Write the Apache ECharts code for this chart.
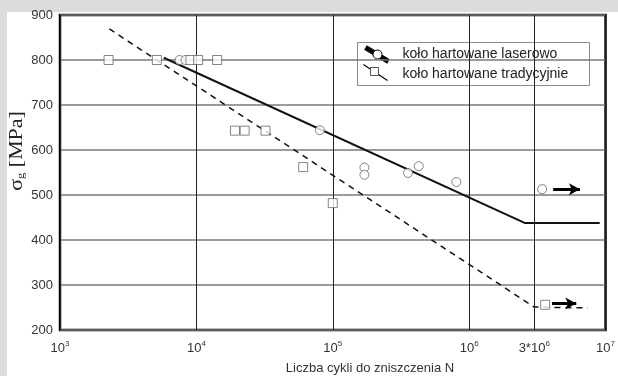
<!DOCTYPE html>
<html><head><meta charset="utf-8">
<script src="https://cdn.jsdelivr.net/npm/echarts@6/dist/echarts.min.js"></script>
<style>html,body{margin:0;padding:0;background:#dcdcdc;}#c{width:618px;height:376px;}</style>
</head><body><div id="c"></div>
<script>
// Data
const xTicks = [1e3, 1e4, 1e5, 1e6, 3e6, 1e7];
const xTickLabels = ['10{s|3}', '10{s|4}', '10{s|5}', '10{s|6}', '3*10{s|6}', '10{s|7}'];
const laserN = [7530, 8320, 80500, 170600, 170600, 356000, 427000, 806000, 3.43e6];
const laserS = [800, 800, 644, 561, 545, 549, 564, 529, 513];
const tradN = [2270, 5130, 9060, 10300, 14200, 19200, 22600, 32100, 60700, 100000, 3.61e6];
const tradS = [800, 800, 800, 800, 800, 643, 643, 643, 562, 482, 256];
const laserLineN = [5770, 2.55e6, 9.06e6];
const laserLineS = [805, 438, 438];
const tradLineN = [2300, 3.0e6, 7.4e6];
const tradLineS = [869, 251, 249];
const laserArrowN = [4.13e6, 6.49e6];
const laserArrowS = [513, 513];
const tradArrowN = [4.05e6, 6.1e6];
const tradArrowS = [259, 259];
const legendNames = ['koło hartowane laserowo', 'koło hartowane tradycyjnie'];

const zip = (a, b) => a.map((v, i) => [v, b[i]]);
const chart = echarts.init(document.getElementById('c'));
const F = 'Liberation Sans, Arial, sans-serif';
chart.setOption({
  backgroundColor: 'transparent',
  animation: false,
  grid: {left: 60, right: 6, top: 15, bottom: 46, show: true, borderColor: '#000', borderWidth: 2.5, backgroundColor: '#fff'},
  xAxis: {
    type: 'log', logBase: 10, min: 1e3, max: 1e7,
    axisLine: {show: false},
    axisTick: {show: false},
    splitLine: {show: true, lineStyle: {color: '#222', width: 1}},
    axisLabel: {
      customValues: xTicks,
      margin: 10,
      formatter: v => { const i = xTicks.findIndex(t => Math.abs(t - v) / t < 1e-6); return i >= 0 ? xTickLabels[i] : ''; },
      color: '#333', fontFamily: F, fontSize: 13,
      rich: {s: {fontSize: 8, verticalAlign: 'top', padding: [0, 0, 8, 0], color: '#333', fontFamily: F}}
    }
  },
  yAxis: {
    type: 'value', min: 200, max: 900, interval: 100,
    axisLine: {show: false}, axisTick: {show: false},
    splitLine: {show: true, lineStyle: {color: '#7a7a7a', width: 1.5}},
    axisLabel: {color: '#333', fontFamily: F, fontSize: 13, margin: 7}
  },
  series: [
    {type: 'line', data: zip(laserLineN, laserLineS), symbol: 'none', lineStyle: {color: '#111', width: 2}, z: 3,
     markLine: {silent: true, symbol: ['none', 'none'], label: {show: false}, lineStyle: {color: '#222', width: 1, type: 'solid'},
       data: [{xAxis: xTicks[4]}]}},
    {type: 'line', data: zip(tradLineN, tradLineS), symbol: 'none', lineStyle: {color: '#111', width: 1.5, type: [6, 5]}, z: 3},
    {type: 'scatter', data: zip(laserN, laserS), symbol: 'circle', symbolSize: 9,
     itemStyle: {color: '#fff', borderColor: '#666', borderWidth: 1}, z: 4},
    {type: 'scatter', data: zip(tradN, tradS), symbol: 'rect', symbolSize: 9,
     itemStyle: {color: '#fff', borderColor: '#666', borderWidth: 1}, z: 4},
    {type: 'line', data: [], markLine: {silent: true, symbol: ['none', 'arrow'], symbolSize: [9, 11], label: {show: false},
      lineStyle: {color: '#000', width: 3, type: 'solid'},
      data: [[{coord: [laserArrowN[0], laserArrowS[0]]}, {coord: [laserArrowN[1], laserArrowS[1]]}],
             [{coord: [tradArrowN[0], tradArrowS[0]]}, {coord: [tradArrowN[1], tradArrowS[1]]}]]}, z: 5}
  ],
  graphic: [
    {type: 'rect', left: 7, top: 12, shape: {width: 611, height: 364}, style: {fill: '#fff'}, z: -10, silent: true},
    {type: 'group', left: 357, top: 42, z: 10, children: [
      {type: 'rect', shape: {x: 0, y: 0, width: 232, height: 43}, style: {fill: '#fff', stroke: '#8a8a8a', lineWidth: 1}},
      {type: 'line', shape: {x1: 8, y1: 5, x2: 31, y2: 19}, style: {stroke: '#000', lineWidth: 5}},
      {type: 'circle', shape: {cx: 20, cy: 12, r: 4.5}, style: {fill: '#fff', stroke: '#000', lineWidth: 1}},
      {type: 'line', shape: {x1: 6, y1: 22, x2: 30, y2: 38}, style: {stroke: '#000', lineWidth: 1.2}},
      {type: 'rect', shape: {x: 13, y: 25, width: 8, height: 8}, style: {fill: '#fff', stroke: '#555', lineWidth: 1}},
      {type: 'text', x: 45, y: 12, style: {text: legendNames[0], font: '14px ' + F, fill: '#222', verticalAlign: 'middle'}},
      {type: 'text', x: 45, y: 32, style: {text: legendNames[1], font: '14px ' + F, fill: '#222', verticalAlign: 'middle'}}
    ]},
    {type: 'text', x: 370, y: 368, z: 10, style: {text: 'Liczba cykli do zniszczenia N', font: '13px ' + F, fill: '#333', align: 'center', verticalAlign: 'middle'}},
    {type: 'text', x: 17, y: 151, rotation: Math.PI / 2, scaleX: 1.15, z: 10,
     style: {text: '{a|σ}{b|g}{a| [MPa]}', align: 'center', verticalAlign: 'middle',
       rich: {a: {fontFamily: 'Liberation Serif, Times New Roman, serif', fontSize: 19, fill: '#222'},
              b: {fontFamily: 'Liberation Serif, Times New Roman, serif', fontSize: 11, fill: '#222', verticalAlign: 'bottom', padding: [8, 0, 0, 0]}}}}
  ]
});
</script></body></html>
